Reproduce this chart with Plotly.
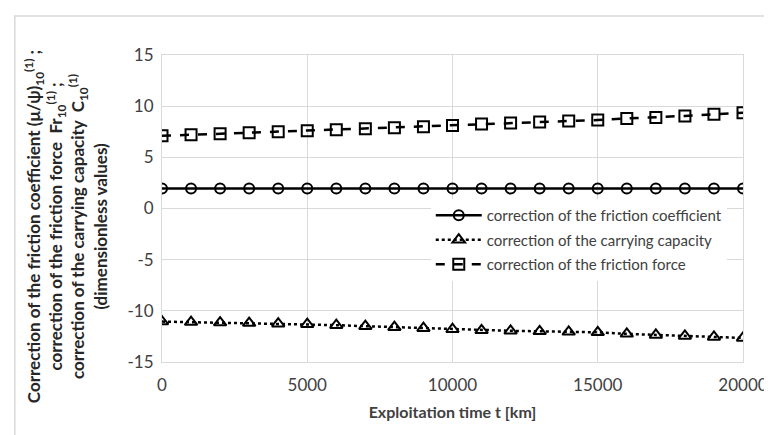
import plotly.graph_objects as go

t_km = [0, 1000, 2000, 3000, 4000, 5000, 6000, 7000, 8000, 9000, 10000,
        11000, 12000, 13000, 14000, 15000, 16000, 17000, 18000, 19000, 20000]
friction_coef = [1.95] * 21
carrying_cap = [-11.05, -11.1, -11.15, -11.2, -11.25, -11.3, -11.4, -11.5, -11.6, -11.7, -11.8,
                -11.9, -11.95, -12.0, -12.05, -12.1, -12.25, -12.35, -12.45, -12.55, -12.65]
friction_force = [7.1, 7.2, 7.3, 7.4, 7.5, 7.6, 7.7, 7.8, 7.9, 8.0, 8.1,
                  8.25, 8.35, 8.45, 8.55, 8.65, 8.8, 8.9, 9.05, 9.2, 9.35]
x_ticks = [0, 5000, 10000, 15000, 20000]
x_tick_labels = ["0", "5000", "10000", "15000", "20000"]
y_ticks = [-15, -10, -5, 0, 5, 10, 15]
y_tick_labels = ["-15", "-10", "-5", "0", "5", "10", "15"]

names = ["correction of the friction coefficient",
         "correction of the carrying capacity",
         "correction of the friction force"]

FONT = "Lato, 'Liberation Sans', sans-serif"

fig = go.Figure()
fig.add_trace(go.Scatter(
    x=t_km, y=friction_coef, name=names[0], mode="lines+markers", legendgroup="a",
    line=dict(color="black", width=2.5),
    marker=dict(symbol="circle-open", size=10, color="black", line=dict(width=2))))
fig.add_trace(go.Scatter(
    x=t_km, y=carrying_cap, name=names[1], mode="lines+markers", legendgroup="b",
    line=dict(color="black", width=2.5, dash="dot"),
    marker=dict(symbol="triangle-up-open", size=11, color="black", line=dict(width=2))))
fig.add_trace(go.Scatter(
    x=t_km, y=friction_force, name=names[2], mode="lines+markers", legendgroup="c",
    line=dict(color="black", width=2.5, dash="dash"),
    marker=dict(symbol="square-open", size=11, color="black", line=dict(width=2))))

W, H = 772, 435
L, R, T, B = 154, 30, 47, 81
pw, ph = W - L - R, H - T - B

def px(xp):
    return (xp - L) / pw

def py(yp):
    return (H - B - yp) / ph

fig.update_layout(
    width=W, height=H,
    margin=dict(l=L, r=R, t=T, b=B),
    paper_bgcolor="white", plot_bgcolor="white",
    font=dict(family=FONT, color="#404040", size=17),
    showlegend=True,
    legend=dict(x=px(426), y=py(191), xanchor="left", yanchor="top",
                bgcolor="white", borderwidth=0,
                font=dict(family=FONT, size=15, color="#404040"),
                tracegroupgap=2, itemwidth=46),
    xaxis=dict(range=[0, 20000], tickvals=x_ticks, ticktext=x_tick_labels, ticks="",
               showgrid=True, gridcolor="#d9d9d9", gridwidth=1, zeroline=False,
               showline=True, linecolor="#d9d9d9", mirror=True,
               tickfont=dict(size=17, color="#404040"), ticklabelstandoff=8,
               title=dict(text="<b>Exploitation time t [km]</b>",
                          font=dict(size=16, color="#404040"), standoff=12)),
    yaxis=dict(range=[-15, 15], tickvals=y_ticks, ticktext=y_tick_labels, ticks="",
               showgrid=True, gridcolor="#d9d9d9", gridwidth=1, zeroline=False,
               showline=True, linecolor="#d9d9d9", mirror=True,
               tickfont=dict(size=17, color="#404040"), ticklabelstandoff=4),
    shapes=[dict(type="rect", xref="paper", yref="paper",
                 x0=px(5), x1=px(790), y0=py(450), y1=py(8),
                 line=dict(color="#d9d9d9", width=1.5), fillcolor="rgba(0,0,0,0)",
                 layer="below")],
    annotations=[dict(
        xref="paper", yref="paper", x=px(56), y=py(219),
        xanchor="center", yanchor="middle", textangle=-90, align="center",
        showarrow=False,
        font=dict(family=FONT, size=17, color="#262626"),
        text=("<b>Correction of the friction coefficient (μ/ψ)<sub>10</sub><sup>(1)</sup> ;</b><br>"
              "<b>correction of the friction force  Fr<sub>10</sub><sup>(1)</sup> ;</b><br>"
              "<b>correction of the carrying capacity  C<sub>10</sub><sup>(1)</sup></b><br>"
              "<b>(dimensionless values)</b>"))],
)

fig.write_html("out.html")
